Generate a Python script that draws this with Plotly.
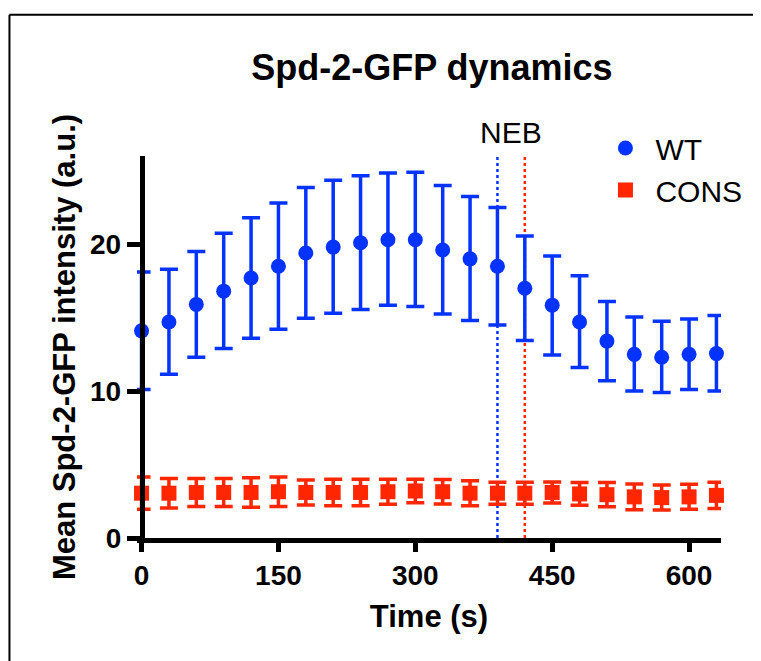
import plotly.graph_objects as go

# ---- data ----
time_s = [0, 30, 60, 90, 120, 150, 180, 210, 240, 270, 300,
          330, 360, 390, 420, 450, 480, 510, 540, 570, 600, 630]

wt_mean = [14.1, 14.7, 15.9, 16.8, 17.7, 18.5, 19.4, 19.8, 20.1, 20.3, 20.3,
           19.6, 19.0, 18.5, 17.0, 15.85, 14.7, 13.4, 12.5, 12.3, 12.5, 12.55]
wt_err_plus = [4.0, 3.6, 3.6, 3.95, 4.1, 4.3, 4.45, 4.55, 4.55, 4.55, 4.6,
               4.4, 4.25, 4.0, 3.55, 3.35, 3.15, 2.7, 2.55, 2.45, 2.4, 2.6]
wt_err_minus = [4.0, 3.55, 3.6, 3.9, 4.1, 4.3, 4.45, 4.5, 4.55, 4.45, 4.55,
                4.35, 4.2, 4.0, 3.55, 3.4, 3.1, 2.7, 2.5, 2.4, 2.4, 2.55]

cons_mean = [3.05, 3.05, 3.1, 3.1, 3.1, 3.15, 3.1, 3.1, 3.1, 3.15, 3.2,
             3.15, 3.05, 3.05, 3.05, 3.1, 3.0, 2.95, 2.8, 2.75, 2.8, 2.9]
cons_err = [1.1, 1.0, 0.95, 0.95, 1.0, 1.0, 0.85, 0.9, 0.9, 0.85, 0.8,
            0.83, 0.85, 0.75, 0.75, 0.72, 0.77, 0.82, 0.87, 0.85, 0.85, 0.9]

neb_wt = 390
neb_cons = 420

x_ticks = [0, 150, 300, 450, 600]
y_ticks = [0, 10, 20]

BLUE = "#0433FF"
RED = "#FF2600"
FONT = "Liberation Sans, Arial, sans-serif"

X_MIN, X_MAX = -5, 635   # small pad so end error caps are not clipped

fig = go.Figure()

fig.add_trace(go.Scatter(
    x=time_s, y=wt_mean, mode="markers", name="WT",
    marker=dict(symbol="circle", size=15, color=BLUE),
    error_y=dict(type="data", symmetric=False, array=wt_err_plus,
                 arrayminus=wt_err_minus, color=BLUE, thickness=3.5, width=9),
    cliponaxis=False,
))
fig.add_trace(go.Scatter(
    x=time_s, y=cons_mean, mode="markers", name="CONS",
    marker=dict(symbol="square", size=15, color=RED),
    error_y=dict(type="data", array=cons_err, color=RED, thickness=3.5, width=9),
    cliponaxis=False,
))

# NEB dotted lines
for xv, col in [(neb_wt, BLUE), (neb_cons, RED)]:
    fig.add_shape(type="line", xref="x", yref="y", x0=xv, x1=xv, y0=0, y1=26,
                  line=dict(color=col, width=2.5, dash="dot"), layer="below")

fig.add_annotation(x=(neb_wt + neb_cons) / 2, y=26, xref="x", yref="y",
                   text="NEB", showarrow=False, yanchor="bottom", yshift=5,
                   font=dict(family=FONT, size=30, color="black"))

# outer frame (left + top edges)
fig.add_shape(type="line", xref="paper", yref="paper", x0=-0.2184, x1=-0.2184,
              y0=1.370, y1=-0.5, line=dict(color="black", width=2))
fig.add_shape(type="line", xref="paper", yref="paper", x0=-0.2184, x1=1.3,
              y0=1.370, y1=1.370, line=dict(color="black", width=2))

fig.update_layout(
    width=761, height=661,
    margin=dict(l=128.94, r=48.46, t=148, b=130.6),
    paper_bgcolor="white", plot_bgcolor="white",
    font=dict(family=FONT, color="black"),
    title=dict(text="<b>Spd-2-GFP dynamics</b>", x=0.557, xanchor="center",
               y=0.9107, yanchor="middle",
               font=dict(family=FONT, size=36, color="black")),
    showlegend=True,
    legend=dict(x=0.785, y=1.089, xanchor="left", yanchor="top",
                font=dict(family=FONT, size=30, color="black"),
                bgcolor="rgba(0,0,0,0)", itemsizing="trace", itemwidth=50),
    xaxis=dict(range=[X_MIN, X_MAX], tickvals=x_ticks, ticktext=[str(v) for v in x_ticks],
               showgrid=False, zeroline=False, showline=True, linecolor="black",
               linewidth=4.5, ticks="outside", ticklen=9, tickwidth=4.5, tickcolor="black",
               tickfont=dict(family=FONT, size=28, color="black", weight="bold"),
               title=dict(text="<b>Time (s)</b>", standoff=16,
                          font=dict(family=FONT, size=31, color="black"))),
    yaxis=dict(range=[0, 26], tickvals=y_ticks, ticktext=[str(v) for v in y_ticks],
               anchor="free", position=(0 - X_MIN) / (X_MAX - X_MIN),
               showgrid=False, zeroline=False, showline=True, linecolor="black",
               linewidth=4.5, ticks="outside", ticklen=13, tickwidth=4.5, tickcolor="black",
               tickfont=dict(family=FONT, size=28, color="black", weight="bold"),
               title=dict(text="<b>Mean Spd-2-GFP intensity (a.u.)</b>", standoff=4,
                          font=dict(family=FONT, size=31, color="black"))),
)

fig.write_html("out.html")
